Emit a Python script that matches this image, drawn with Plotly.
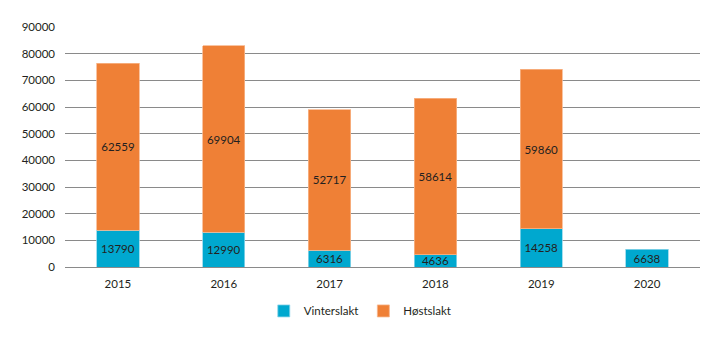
import plotly.graph_objects as go

years = ["2015", "2016", "2017", "2018", "2019", "2020"]
vinterslakt = [13790, 12990, 6316, 4636, 14258, 6638]
hostslakt = [62559, 69904, 52717, 58614, 59860, None]
y_ticks = [0, 10000, 20000, 30000, 40000, 50000, 60000, 70000, 80000, 90000]

font = dict(family="Lato, Open Sans, sans-serif", size=11.5, color="#231f20")

fig = go.Figure()
fig.add_trace(go.Bar(
    x=years, y=vinterslakt, name="Vinterslakt",
    marker=dict(color="#00a8cf", line=dict(color="#8fd6ea", width=0.8)),
    text=[str(v) for v in vinterslakt], textposition="inside", constraintext="none",
    insidetextanchor="middle", textfont=dict(color="#231f20", size=11.5),
))
fig.add_trace(go.Bar(
    x=years, y=hostslakt, name="Høstslakt",
    marker=dict(color="#ef8036", line=dict(color="#f7b58b", width=0.8)),
    text=[str(v) if v is not None else "" for v in hostslakt], textposition="inside",
    constraintext="none",
    insidetextanchor="middle", textfont=dict(color="#231f20", size=11.5),
))
fig.update_layout(
    barmode="stack", bargap=0.6,
    width=720, height=341,
    margin=dict(l=65, r=20, t=27, b=74, autoexpand=False),
    paper_bgcolor="white", plot_bgcolor="white",
    font=font,
    showlegend=True,
    legend=dict(orientation="h", x=0.465, xanchor="center", y=-0.183, yanchor="middle",
                font=dict(size=11.5), itemwidth=30, traceorder="normal"),
    uniformtext=dict(mode="show", minsize=8),
)
fig.update_xaxes(showgrid=False, showline=False, ticks="", tickfont=dict(size=11.5),
                 ticklabelstandoff=8)
fig.update_yaxes(range=[0, 90000], tickvals=y_ticks, ticktext=[str(t) for t in y_ticks],
                 showgrid=True, gridcolor="#8a8a8a", gridwidth=1,
                 zeroline=True, zerolinecolor="#8a8a8a", zerolinewidth=1,
                 showline=False, ticks="", tickfont=dict(size=11.5), ticklabelstandoff=9)
fig.write_html("out.html")
